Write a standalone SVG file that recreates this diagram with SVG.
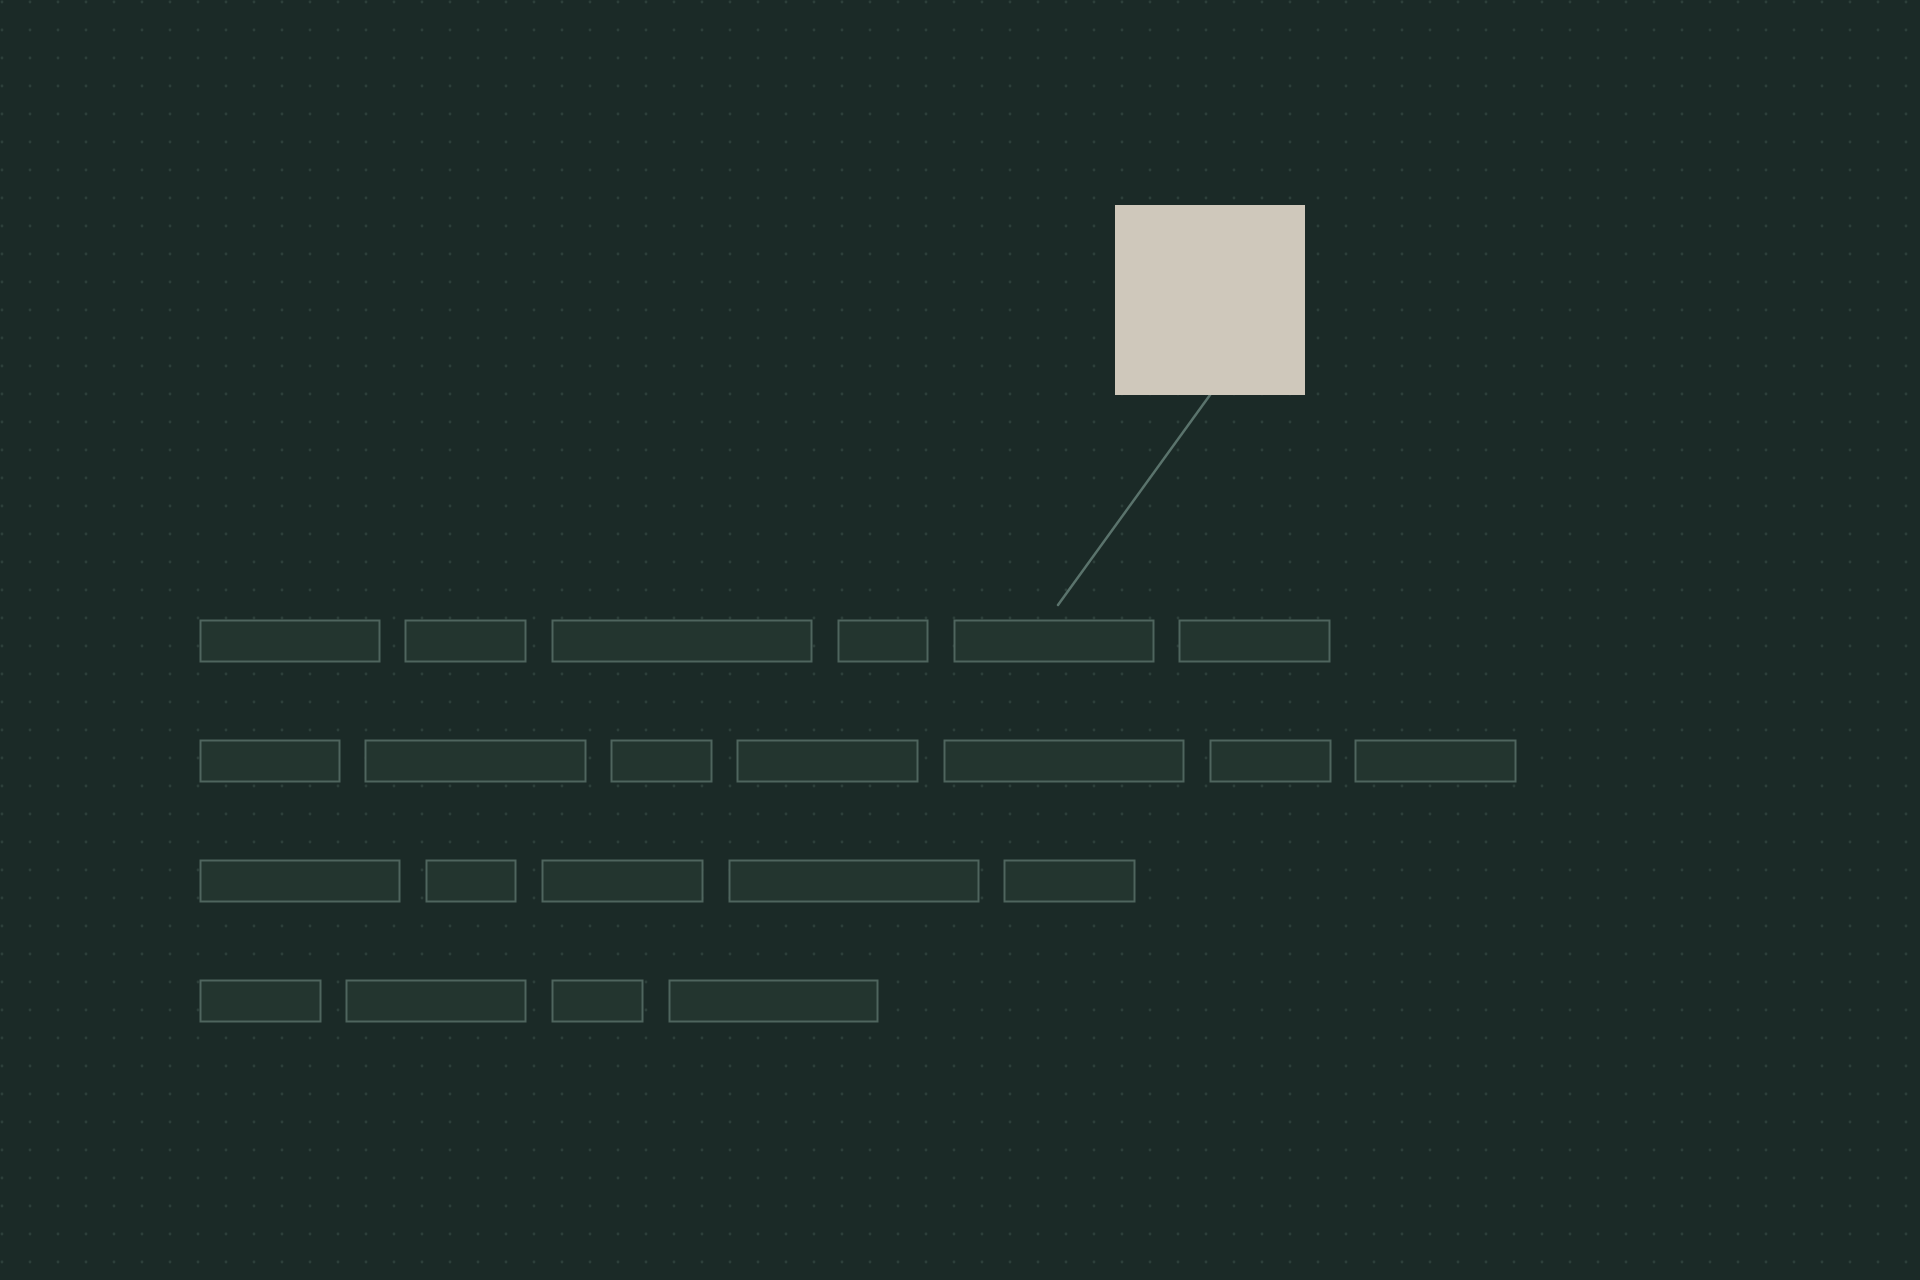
<svg xmlns="http://www.w3.org/2000/svg" width="1920" height="1280" viewBox="0 0 1920 1280">
  <defs>
    <pattern id="dots" x="0" y="0" width="28" height="28" patternUnits="userSpaceOnUse">
      <circle cx="2" cy="2" r="1.4" fill="#2d3f3a"/>
    </pattern>
    <style>
      .blk { fill: #23352f; stroke: #4f655e; stroke-width: 2; }
      .conn { stroke: #5a736c; stroke-width: 2.5; fill: none; stroke-linecap: round; }
      .sq { fill: #cfc8bb; }
    </style>
  </defs>
  <rect x="0" y="0" width="1920" height="1280" fill="#1b2a27"/>
  <rect x="0" y="0" width="1920" height="1280" fill="url(#dots)"/>

  <g id="connectors">
    <line class="conn" x1="1210" y1="395" x2="1058" y2="605"/>
  </g>

  <g id="square">
    <rect class="sq" x="1115" y="205" width="190" height="190"/>
  </g>

  <g id="row1">
    <rect class="blk" x="200.5" y="620.5" width="179" height="41"/>
    <rect class="blk" x="405.5" y="620.5" width="120" height="41"/>
    <rect class="blk" x="552.5" y="620.5" width="259" height="41"/>
    <rect class="blk" x="838.5" y="620.5" width="89" height="41"/>
    <rect class="blk" x="954.5" y="620.5" width="199" height="41"/>
    <rect class="blk" x="1179.5" y="620.5" width="150" height="41"/>
  </g>
  <g id="row2">
    <rect class="blk" x="200.5" y="740.5" width="139" height="41"/>
    <rect class="blk" x="365.5" y="740.5" width="220" height="41"/>
    <rect class="blk" x="611.5" y="740.5" width="100" height="41"/>
    <rect class="blk" x="737.5" y="740.5" width="180" height="41"/>
    <rect class="blk" x="944.5" y="740.5" width="239" height="41"/>
    <rect class="blk" x="1210.5" y="740.5" width="120" height="41"/>
    <rect class="blk" x="1355.5" y="740.5" width="160" height="41"/>
  </g>
  <g id="row3">
    <rect class="blk" x="200.5" y="860.5" width="199" height="41"/>
    <rect class="blk" x="426.5" y="860.5" width="89" height="41"/>
    <rect class="blk" x="542.5" y="860.5" width="160" height="41"/>
    <rect class="blk" x="729.5" y="860.5" width="249" height="41"/>
    <rect class="blk" x="1004.5" y="860.5" width="130" height="41"/>
  </g>
  <g id="row4">
    <rect class="blk" x="200.5" y="980.5" width="120" height="41"/>
    <rect class="blk" x="346.5" y="980.5" width="179" height="41"/>
    <rect class="blk" x="552.5" y="980.5" width="90" height="41"/>
    <rect class="blk" x="669.5" y="980.5" width="208" height="41"/>
  </g>
</svg>
